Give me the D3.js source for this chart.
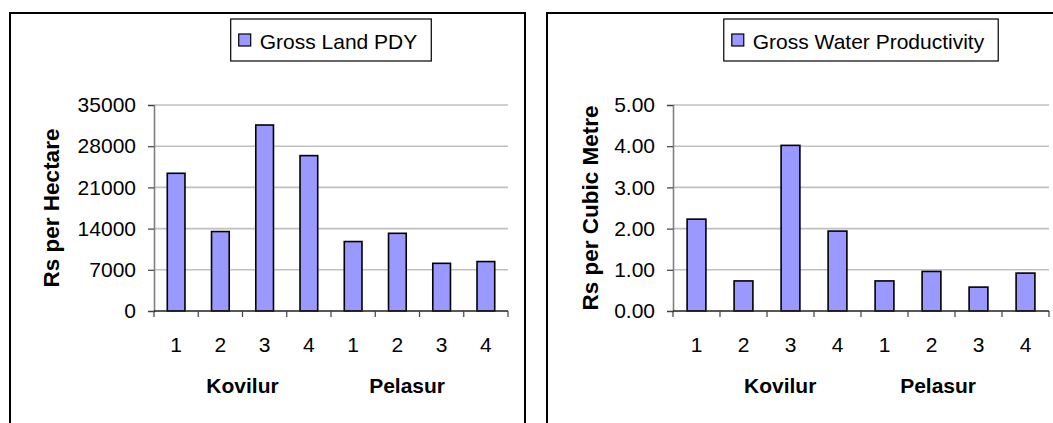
<!DOCTYPE html>
<html>
<head>
<meta charset="utf-8">
<script src="https://cdn.jsdelivr.net/npm/d3@7"></script>
<style>
  html, body { margin: 0; padding: 0; background: #fff; }
  svg { display: block; font-family: "Liberation Sans", Arial, sans-serif; }
</style>
</head>
<body>
<svg id="chart" width="1053" height="423"></svg>
<script>
// Plot categories: four sites in each of two villages
const categories = ["1", "2", "3", "4", "1", "2", "3", "4"];
const groups = ["Kovilur", "Pelasur"];

// Gross land productivity, Rs per hectare
const landValues = [23400, 13500, 31600, 26400, 11800, 13200, 8100, 8400];
const landTicks = [0, 7000, 14000, 21000, 28000, 35000];

// Gross water productivity, Rs per cubic metre
const waterValues = [2.23, 0.73, 4.02, 1.94, 0.73, 0.96, 0.58, 0.92];
const waterTicks = [0, 1, 2, 3, 4, 5];

const svg = d3.select("#chart");
const BAR_FILL = "#9999ff";

function drawPanel(cfg) {
  const g = svg.append("g");

  // panel frame (runs off the bottom / right edge of the page)
  g.append("rect")
    .attr("x", cfg.frame.x).attr("y", cfg.frame.y)
    .attr("width", cfg.frame.w).attr("height", cfg.frame.h)
    .attr("fill", "#fff").attr("stroke", "#000").attr("stroke-width", 2);

  const x = d3.scaleBand()
    .domain(d3.range(cfg.values.length))
    .range([cfg.plot.left, cfg.plot.right])
    .padding(0);

  const y = d3.scaleLinear()
    .domain([cfg.ticks[0], cfg.ticks[cfg.ticks.length - 1]])
    .range([cfg.plot.bottom, cfg.plot.top]);

  // horizontal gridlines
  g.append("g").selectAll("line")
    .data(cfg.ticks.filter(t => t !== 0))
    .join("line")
    .attr("x1", cfg.plot.left).attr("x2", cfg.plot.right)
    .attr("y1", d => y(d)).attr("y2", d => y(d))
    .attr("stroke", "#c0c0c0").attr("stroke-width", 1.6);

  // y axis
  const yAxis = d3.axisLeft(y)
    .tickValues(cfg.ticks)
    .tickFormat(cfg.format)
    .tickSize(6)
    .tickPadding(12);
  const ya = g.append("g")
    .attr("transform", `translate(${cfg.plot.left},0)`)
    .call(yAxis);
  ya.select(".domain").attr("stroke", "#808080").attr("stroke-width", 1.6);
  ya.selectAll(".tick line").attr("stroke", "#404040").attr("stroke-width", 1.2);
  ya.selectAll(".tick text")
    .attr("font-size", 21).attr("fill", "#000")
    .attr("font-family", "Liberation Sans, Arial, sans-serif");

  // bars
  const barW = x.bandwidth() / 2.5;
  g.append("g").selectAll("rect")
    .data(cfg.values)
    .join("rect")
    .attr("x", (d, i) => x(i) + (x.bandwidth() - barW) / 2)
    .attr("y", d => y(d))
    .attr("width", barW)
    .attr("height", d => y(0) - y(d))
    .attr("fill", BAR_FILL)
    .attr("stroke", "#000")
    .attr("stroke-width", 1.6);

  // category axis: line at zero, ticks on band boundaries
  g.append("line")
    .attr("x1", cfg.plot.left).attr("x2", cfg.plot.right)
    .attr("y1", y(0)).attr("y2", y(0))
    .attr("stroke", "#202020").attr("stroke-width", 1.6);

  const bounds = d3.range(cfg.values.length + 1).map(i =>
    i < cfg.values.length ? x(i) : x(i - 1) + x.bandwidth());
  g.append("g").selectAll("line")
    .data(bounds)
    .join("line")
    .attr("x1", d => d).attr("x2", d => d)
    .attr("y1", y(0)).attr("y2", y(0) + 6)
    .attr("stroke", "#404040").attr("stroke-width", 1.2);

  g.append("g").selectAll("text")
    .data(categories)
    .join("text")
    .attr("x", (d, i) => x(i) + x.bandwidth() / 2)
    .attr("y", cfg.catLabelY)
    .attr("text-anchor", "middle")
    .attr("font-size", 21)
    .text(d => d);

  // village labels below the site numbers
  g.append("g").selectAll("text")
    .data(groups)
    .join("text")
    .attr("x", (d, i) => cfg.plot.left + cfg.groupAt[i] * x.bandwidth())
    .attr("y", cfg.groupLabelY)
    .attr("text-anchor", "middle")
    .attr("font-size", 21)
    .attr("font-weight", "bold")
    .text(d => d);

  // y axis title
  g.append("text")
    .attr("transform", `translate(${cfg.titleX},${(cfg.plot.top + cfg.plot.bottom) / 2}) rotate(-90)`)
    .attr("text-anchor", "middle")
    .attr("font-size", 22.5)
    .attr("font-weight", "bold")
    .text(cfg.yTitle);

  // legend
  const lg = g.append("g");
  const label = lg.append("text")
    .attr("font-size", 21)
    .attr("dominant-baseline", "central")
    .text(cfg.series);
  const tw = label.node().getComputedTextLength();
  const boxW = 8 + 12 + 9 + tw + 14;
  const boxH = 42;
  const bx = (cfg.plot.left + cfg.plot.right) / 2 - boxW / 2;
  const by = 19;
  lg.insert("rect", "text")
    .attr("x", bx).attr("y", by).attr("width", boxW).attr("height", boxH)
    .attr("fill", "#fff").attr("stroke", "#000").attr("stroke-width", 1.2);
  lg.insert("rect", "text")
    .attr("x", bx + 8).attr("y", by + boxH / 2 - 6)
    .attr("width", 12).attr("height", 12)
    .attr("fill", BAR_FILL).attr("stroke", "#000").attr("stroke-width", 1.2);
  label.attr("x", bx + 29).attr("y", by + boxH / 2 + 1);
}

drawPanel({
  frame: { x: 10, y: 13, w: 515, h: 430 },
  plot: { left: 154, right: 508, top: 105, bottom: 311 },
  values: landValues,
  ticks: landTicks,
  format: d3.format("d"),
  yTitle: "Rs per Hectare",
  series: "Gross Land PDY",
  titleX: 59,
  catLabelY: 352,
  groupLabelY: 393,
  groupAt: [2.0, 5.72]
});

drawPanel({
  frame: { x: 547, y: 13, w: 530, h: 430 },
  plot: { left: 673, right: 1049, top: 105, bottom: 311 },
  values: waterValues,
  ticks: waterTicks,
  format: d3.format(".2f"),
  yTitle: "Rs per Cubic Metre",
  series: "Gross Water Productivity",
  titleX: 598,
  catLabelY: 352,
  groupLabelY: 393,
  groupAt: [2.28, 5.64]
});
</script>
</body>
</html>
